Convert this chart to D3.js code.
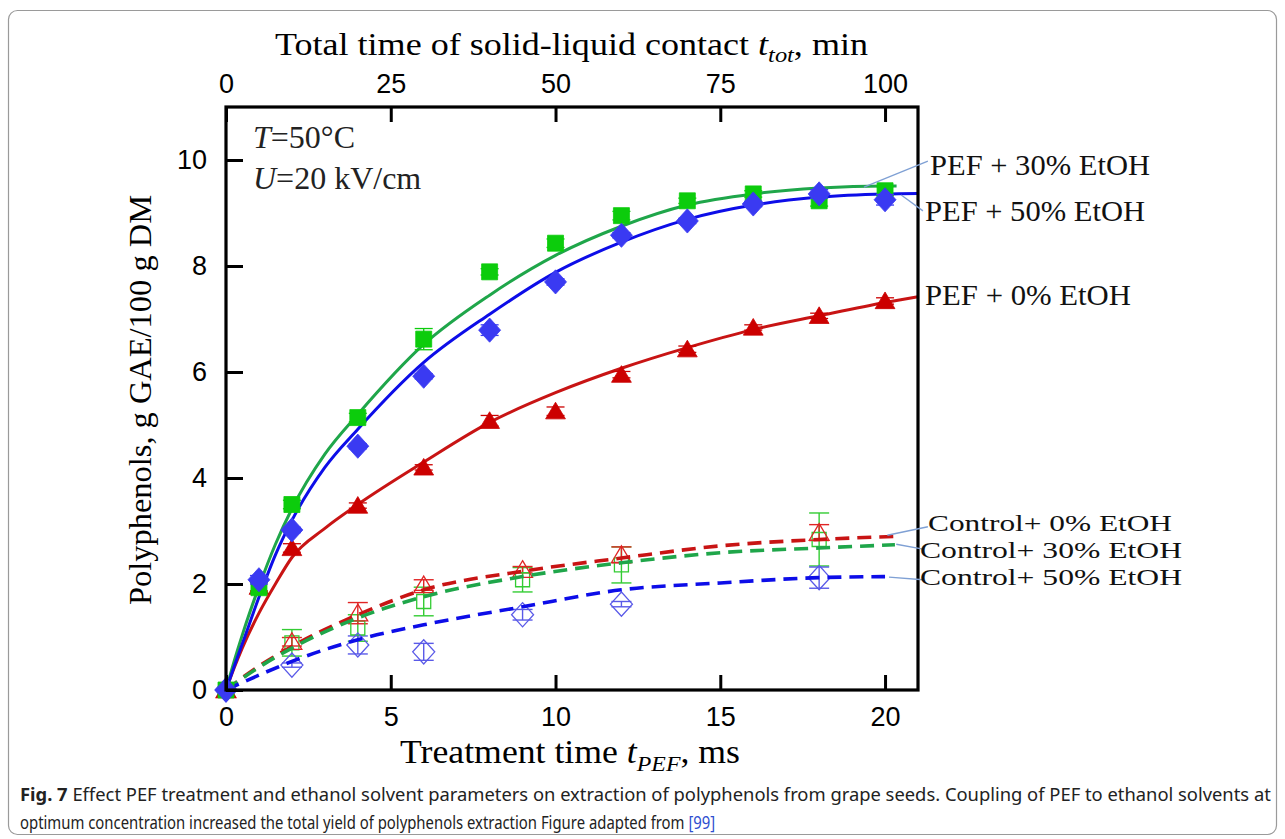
<!DOCTYPE html>
<html><head><meta charset="utf-8">
<script src="https://cdn.jsdelivr.net/npm/d3@7"></script>
<style>body{margin:0;background:#fff}</style>
</head><body>
<svg id="c" width="1285" height="839"></svg>
<script>
// ---------- data ----------
const pefTime = [0, 1, 2, 4, 6, 8, 10, 12, 14, 16, 18, 20];
const pef0  = [0, 1.95, 2.68, 3.48, 4.20, 5.08, 5.26, 5.95, 6.43, 6.84, 7.06, 7.34];
const pef30 = [0, 1.93, 3.50, 5.14, 6.62, 7.89, 8.43, 8.95, 9.23, 9.36, 9.23, 9.42];
const pef50 = [0, 2.08, 3.02, 4.60, 5.92, 6.79, 7.70, 8.58, 8.85, 9.17, 9.36, 9.25];
const pef0Err  = [0, 0.08, 0.08, 0.05, 0.05, 0.10, 0.08, 0.06, 0.06, 0.05, 0.05, 0.06];
const pef30Err = [0, 0.10, 0.08, 0.08, 0.20, 0.06, 0.08, 0.08, 0.05, 0.06, 0.10, 0.08];
const pef50Err = [0, 0.08, 0.05, 0.05, 0.05, 0.10, 0.06, 0.05, 0.05, 0.05, 0.08, 0.10];

const ctrlTime = [0, 2, 4, 6, 9, 12, 18];
const ctrl0  = [0, 0.91, 1.45, 1.98, 2.27, 2.55, 2.97];
const ctrl30 = [0, 0.89, 1.17, 1.67, 2.08, 2.36, 2.84];
const ctrl50 = [0, 0.47, 0.85, 0.72, 1.42, 1.62, 2.12];
const ctrl0Err  = [0, 0.08, 0.20, 0.10, 0.06, 0.15, 0.15];
const ctrl30Err = [0, 0.25, 0.25, 0.27, 0.23, 0.34, 0.50];
const ctrl50Err = [0, 0.04, 0.17, 0.16, 0.10, 0.05, 0.20];

// fitted curves
const fit30X = [0, 0.25, 0.5, 1, 1.5, 2, 3, 4, 6, 8, 10, 12, 14, 16, 18, 20, 20.35];
const fit30Y = [0, 0.55, 1.05, 1.95, 2.75, 3.42, 4.45, 5.2, 6.52, 7.45, 8.2, 8.75, 9.15, 9.36, 9.47, 9.51, 9.51];
const fit50X = [0, 0.25, 0.5, 1, 1.5, 2, 3, 4, 6, 8, 10, 12, 14, 16, 18, 20, 21];
const fit50Y = [0, 0.45, 0.88, 1.75, 2.55, 3.2, 4.2, 4.92, 6.18, 7.09, 7.88, 8.45, 8.88, 9.15, 9.3, 9.36, 9.37];
const fit0X  = [0, 0.25, 0.5, 1, 1.5, 2, 3, 4, 6, 8, 10, 12, 14, 16, 18, 20, 21];
const fit0Y  = [0, 0.42, 0.8, 1.45, 2.0, 2.5, 3.05, 3.5, 4.3, 5.05, 5.61, 6.07, 6.46, 6.8, 7.06, 7.31, 7.42];

const cfit0X  = [0, 1, 2, 4, 6, 9, 12, 15, 18, 20.4];
const cfit0Y  = [0, 0.45, 0.82, 1.42, 1.89, 2.24, 2.49, 2.72, 2.84, 2.9];
const cfit30X = [0, 1, 2, 4, 6, 9, 12, 15, 18, 20.3];
const cfit30Y = [0, 0.43, 0.79, 1.36, 1.76, 2.14, 2.4, 2.59, 2.68, 2.74];
const cfit50X = [0, 1, 2, 4, 6, 9, 12, 15, 18, 20];
const cfit50Y = [0, 0.28, 0.54, 0.95, 1.23, 1.57, 1.89, 2.02, 2.12, 2.14];

const xTicks = [0, 5, 10, 15, 20];
const xTopTicks = [0, 25, 50, 75, 100];
const yTicks = [0, 2, 4, 6, 8, 10];

const seriesLabels = ["PEF + 30% EtOH", "PEF + 50% EtOH", "PEF + 0% EtOH",
  "Control+ 0% EtOH", "Control+ 30% EtOH", "Control+ 50% EtOH"];

// ---------- chart ----------
const svg = d3.select('#c');
const x = d3.scaleLinear().domain([0, 21]).range([226, 918]);
const xTop = d3.scaleLinear().domain([0, 105]).range([226, 918]);
const y = d3.scaleLinear().domain([0, 11]).range([690, 107]);

const serif = "'Liberation Serif','Times New Roman',serif";
const sans = "'Liberation Sans',Arial,sans-serif";

// outer frame
svg.append('rect').attr('x', 8.5).attr('y', 10.5).attr('width', 1268).attr('height', 824)
  .attr('rx', 9).attr('fill', 'none').attr('stroke', '#9a9a9a').attr('stroke-width', 1.2);

const C = {
  gLine: '#1fa64a', gMark: '#0ccc0c', gOpen: '#33cc33',
  bLine: '#0d0de8', bMark: '#3a3af2', bOpen: '#5a5ae8',
  rLine: '#c81414', rMark: '#cc0000', rOpen: '#e02424'
};

const line = d3.line().x(d => x(d[0])).y(d => y(d[1])).curve(d3.curveMonotoneX);
function zip(a, b) { return a.map((v, i) => [v, b[i]]); }

// error bars
function errBars(g, xs, ys, es, color, cap, w) {
  xs.forEach((xv, i) => {
    if (!es[i]) return;
    const cx = x(xv), y1 = y(ys[i] - es[i]), y2 = y(ys[i] + es[i]);
    g.append('line').attr('x1', cx).attr('x2', cx).attr('y1', y1).attr('y2', y2)
      .attr('stroke', color).attr('stroke-width', w);
    [y1, y2].forEach(yy => g.append('line').attr('x1', cx - cap).attr('x2', cx + cap)
      .attr('y1', yy).attr('y2', yy).attr('stroke', color).attr('stroke-width', w));
  });
}
const shapes = {
  square: s => `M${-s},${-s}H${s}V${s}H${-s}Z`,
  diamond: s => `M0,${-s * 1.1}L${s},0L0,${s * 1.1}L${-s},0Z`,
  triangle: s => `M0,${-s}L${s * 1.1},${s * 0.85}L${-s * 1.1},${s * 0.85}Z`
};
function markers(g, xs, ys, shape, s, color, filled) {
  g.selectAll(null).data(zip(xs, ys)).enter().append('path')
    .attr('transform', d => `translate(${x(d[0])},${y(d[1])})`)
    .attr('d', shapes[shape](s))
    .attr('fill', filled ? color : 'none')
    .attr('stroke', color).attr('stroke-width', filled ? 0.8 : 1.3);
}

const plot = svg.append('g');

// control open markers
errBars(plot, ctrlTime, ctrl30, ctrl30Err, C.gOpen, 10, 1.4);
errBars(plot, ctrlTime, ctrl0, ctrl0Err, C.rOpen, 10, 1.4);
errBars(plot, ctrlTime, ctrl50, ctrl50Err, C.bOpen, 10, 1.4);
markers(plot, ctrlTime, ctrl30, 'square', 7, C.gOpen, false);
markers(plot, ctrlTime, ctrl0, 'triangle', 9, C.rOpen, false);
markers(plot, ctrlTime, ctrl50, 'diamond', 11, C.bOpen, false);

// control dashed fits
[[cfit0X, cfit0Y, C.rLine], [cfit30X, cfit30Y, C.gLine], [cfit50X, cfit50Y, C.bLine]].forEach(([xs, ys, col]) => {
  plot.append('path').attr('d', line(zip(xs, ys))).attr('fill', 'none')
    .attr('stroke', col).attr('stroke-width', 3.6).attr('stroke-dasharray', '14,8');
});

// PEF solid fits
[[fit0X, fit0Y, C.rLine], [fit30X, fit30Y, C.gLine], [fit50X, fit50Y, C.bLine]].forEach(([xs, ys, col]) => {
  plot.append('path').attr('d', line(zip(xs, ys))).attr('fill', 'none')
    .attr('stroke', col).attr('stroke-width', 3);
});

// PEF filled markers
errBars(plot, pefTime, pef0, pef0Err, C.rMark, 9, 1.3);
markers(plot, pefTime, pef0, 'triangle', 9, C.rMark, true);
errBars(plot, pefTime, pef30, pef30Err, C.gMark, 9, 1.3);
markers(plot, pefTime, pef30, 'square', 8, C.gMark, true);
errBars(plot, pefTime, pef50, pef50Err, C.bMark, 9, 1.3);
markers(plot, pefTime, pef50, 'diamond', 11, C.bMark, true);

// axes
function styleAxis(g) {
  g.select('.domain').remove();
  g.selectAll('.tick line').attr('stroke', '#000').attr('stroke-width', 3);
  g.selectAll('.tick text').attr('font-family', sans).attr('font-size', 27).attr('fill', '#000');
}
svg.append('g').attr('transform', 'translate(0,690)')
  .call(d3.axisBottom(x).tickValues(xTicks).tickSize(-15).tickPadding(17).tickFormat(d3.format('d')))
  .call(styleAxis);
svg.append('g').attr('transform', 'translate(0,107)')
  .call(d3.axisTop(xTop).tickValues(xTopTicks).tickSize(-15).tickPadding(14).tickFormat(d3.format('d')))
  .call(styleAxis);
svg.append('g').attr('transform', 'translate(226,0)')
  .call(d3.axisLeft(y).tickValues(yTicks).tickSize(-17).tickPadding(19).tickFormat(d3.format('d')))
  .call(styleAxis);

// spines
svg.append('rect').attr('x', x(0)).attr('y', y(11)).attr('width', x(21) - x(0)).attr('height', y(0) - y(11))
  .attr('fill', 'none').attr('stroke', '#000').attr('stroke-width', 3.2);

// axis titles
const bt = svg.append('text').attr('x', 400).attr('y', 763).attr('font-family', serif).attr('font-size', 33)
  .attr('textLength', 340).attr('lengthAdjust', 'spacingAndGlyphs');
bt.append('tspan').text('Treatment time ');
bt.append('tspan').attr('font-style', 'italic').text('t');
bt.append('tspan').attr('font-style', 'italic').attr('font-size', 22).attr('dy', 8).text('PEF');
bt.append('tspan').attr('dy', -8).text(', ms');

const tt = svg.append('text').attr('x', 275).attr('y', 55).attr('font-family', serif).attr('font-size', 31)
  .attr('textLength', 593).attr('lengthAdjust', 'spacingAndGlyphs');
tt.append('tspan').text('Total time of solid-liquid contact ');
tt.append('tspan').attr('font-style', 'italic').text('t');
tt.append('tspan').attr('font-style', 'italic').attr('font-size', 21).attr('dy', 7).text('tot');
tt.append('tspan').attr('dy', -7).text(', min');

svg.append('text').attr('transform', 'translate(151,400) rotate(-90)').attr('text-anchor', 'middle')
  .attr('font-family', serif).attr('font-size', 31).attr('textLength', 410).attr('lengthAdjust', 'spacingAndGlyphs')
  .text('Polyphenols, g GAE/100 g DM');

// conditions
const t1 = svg.append('text').attr('x', 253).attr('y', 148).attr('font-family', serif).attr('font-size', 32).attr('fill', '#222');
t1.append('tspan').attr('font-style', 'italic').text('T');
t1.append('tspan').text('=50°C');
const t2 = svg.append('text').attr('x', 253).attr('y', 189).attr('font-family', serif).attr('font-size', 32).attr('fill', '#222');
t2.append('tspan').attr('font-style', 'italic').text('U');
t2.append('tspan').text('=20 kV/cm');

// series labels with leader lines
const labelPos = [
  { tx: 930, ty: 175, w: 220, fs: 29, from: [19.36, 9.49], to: [21.3, 9.98] },
  { tx: 925, ty: 221, w: 220, fs: 29, from: [20.49, 9.34], to: [21.15, 9.04] },
  { tx: 925, ty: 305, w: 206, fs: 29, from: null, to: null },
  { tx: 928, ty: 531, w: 244, fs: 24, from: [20.07, 2.92], to: [21.3, 3.08] },
  { tx: 920, ty: 558, w: 262, fs: 24, from: [20.34, 2.75], to: [21.15, 2.66] },
  { tx: 920, ty: 585, w: 262, fs: 24, from: [20.12, 2.13], to: [21.15, 2.08] }
];
seriesLabels.forEach((lab, i) => {
  const p = labelPos[i];
  if (p.from) {
    svg.append('line').attr('x1', x(p.from[0])).attr('y1', y(p.from[1]))
      .attr('x2', x(p.to[0])).attr('y2', y(p.to[1]))
      .attr('stroke', '#7fa0d4').attr('stroke-width', 1.3);
  }
  svg.append('text').attr('x', p.tx).attr('y', p.ty).attr('font-family', serif).attr('font-size', p.fs)
    .attr('fill', '#111').attr('textLength', p.w).attr('lengthAdjust', 'spacingAndGlyphs').text(lab);
});

// caption (condensed by horizontal scaling to match the reference width)
const capFont = "'Noto Sans',sans-serif";
function captionLine(yPos, target, build) {
  const g = svg.append('g');
  const t = g.append('text').attr('x', 0).attr('y', 0).attr('font-family', capFont)
    .attr('font-size', 18).attr('fill', '#222');
  build(t);
  const w = t.node().getComputedTextLength() || target;
  g.attr('transform', `translate(20,${yPos}) scale(${target / w},1)`);
}
captionLine(801, 1252, t => {
  t.append('tspan').attr('font-weight', 'bold').text('Fig. 7');
  t.append('tspan').text('  Effect PEF treatment and ethanol solvent parameters on extraction of polyphenols from grape seeds. Coupling of PEF to ethanol solvents at');
});
captionLine(829, 696, t => {
  t.append('tspan').text('optimum concentration increased the total yield of polyphenols extraction Figure adapted from ');
  t.append('tspan').attr('fill', '#2f4fd0').text('[99]');
});
</script>
</body></html>
